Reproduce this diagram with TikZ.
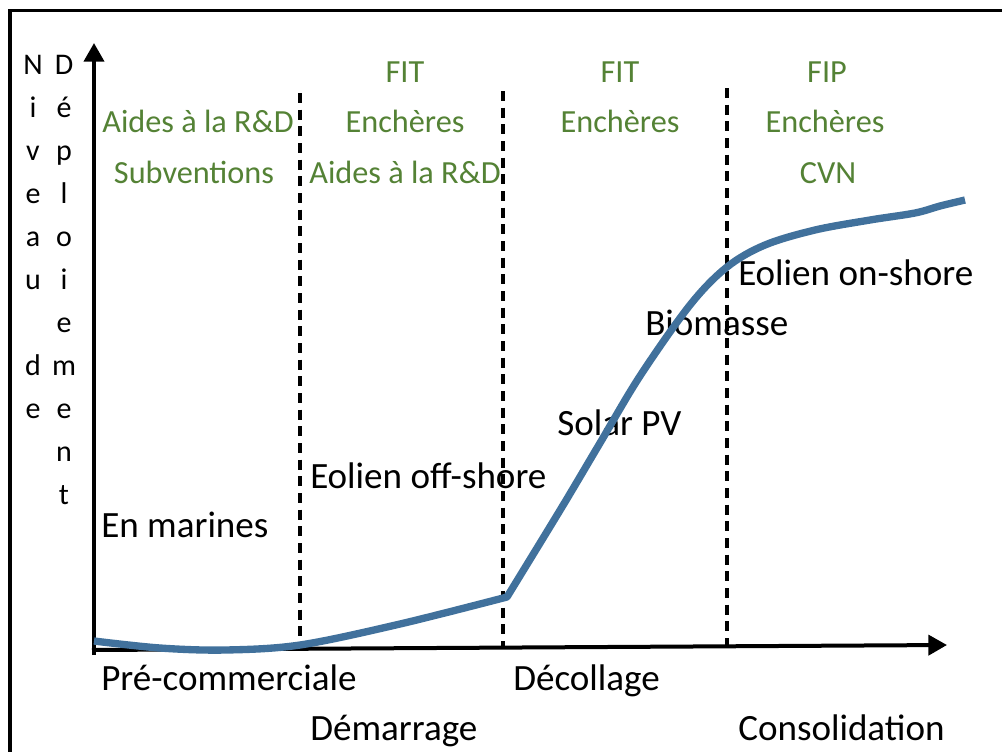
\documentclass[tikz,border=0pt]{standalone}
\usepackage{fontspec}
\setmainfont{Carlito}
\usetikzlibrary{arrows.meta}
\definecolor{polgreen}{RGB}{84,130,53}
\definecolor{curveblue}{RGB}{65,113,156}
\begin{document}
\begin{tikzpicture}[x=0.75pt,y=-0.75pt,
  axisline/.style={line width=3pt,-{Triangle[length=14pt,width=15pt]}},
  phase/.style={line width=2.5pt,dash pattern=on 7.5pt off 5pt},
  growth/.style={line width=5.5pt,color=curveblue,line join=round},
  policy/.style={inner sep=0pt,anchor=base,text=polgreen,font=\fontsize{24.2}{28}\selectfont},
  lab/.style={inner sep=0pt,anchor=base west,font=\fontsize{27.8}{32}\selectfont},
  vert/.style={inner sep=0pt,anchor=base,align=center,font=\fontsize{22.5}{32.25}\selectfont}]
\useasboundingbox (0,0) rectangle (1002,751);
% frame
\draw[line width=2.5pt] (10,760) -- (10,10.7) -- (1010,10.7);
% vertical axis label (anchor base = last line)
\node[vert] (lv1) at (33,418) {N\\i\\v\\e\\a\\u\\\mbox{}\\d\\e};
\node[vert] (lv2) at (64,504) {D\\é\\p\\l\\o\\i\\e\\m\\e\\n\\t};
% axes
\coordinate (O) at (94,655);
\coordinate (Ytop) at (94,43);
\coordinate (Xl) at (92,650);
\coordinate (Xr) at (947,645);
\draw[axisline] (O) -- (Ytop);
\draw[axisline] (Xl) -- (Xr);
% phase separators
\coordinate (s1t) at (300,93);  \coordinate (s1b) at (300,647);
\coordinate (s2t) at (503,91);  \coordinate (s2b) at (503,646);
\coordinate (s3t) at (727,88);  \coordinate (s3b) at (727,646);
\draw[phase] (s1t) -- (s1b);
\draw[phase] (s2t) -- (s2b);
\draw[phase] (s3t) -- (s3b);
% policy instruments
\node[policy] (p1a) at (198,132) {Aides à la R\&D};
\node[policy] (p1b) at (194,183) {Subventions};
\node[policy] (p2a) at (405,82) {FIT};
\node[policy] (p2b) at (405,132) {Enchères};
\node[policy] (p2c) at (405,183) {Aides à la R\&D};
\node[policy] (p3a) at (620,82) {FIT};
\node[policy] (p3b) at (620,132) {Enchères};
\node[policy] (p4a) at (827,82) {FIP};
\node[policy] (p4b) at (825,132) {Enchères};
\node[policy] (p4c) at (828,183) {CVN};
% technologies
\node[lab] (t1) at (101,537) {En marines};
\node[lab] (t2) at (310,488) {Eolien off-shore};
\node[lab] (t3) at (557,435) {Solar PV};
\node[lab] (t4) at (645,335) {Biomasse};
\node[lab] (t5) at (738,285) {Eolien on-shore};
% phases
\node[lab] (ph1) at (101,690) {Pré-commerciale};
\node[lab] (ph2) at (310,740) {Démarrage};
\node[lab] (ph3) at (513,690) {Décollage};
\node[lab] (ph4) at (738,740) {Consolidation};
% curve
\draw[growth] plot[smooth,tension=0.55] coordinates {(94,641) (160,648) (225,650) (300,645) (400,624) (507,597)}
  -- plot[smooth,tension=0.55] coordinates {(507,597) (562,507) (600,443) (640,376) (690,305) (727,267) (765,245) (815,230) (870,220) (915,213) (940,206) (965,200)};
\end{tikzpicture}
\end{document}
